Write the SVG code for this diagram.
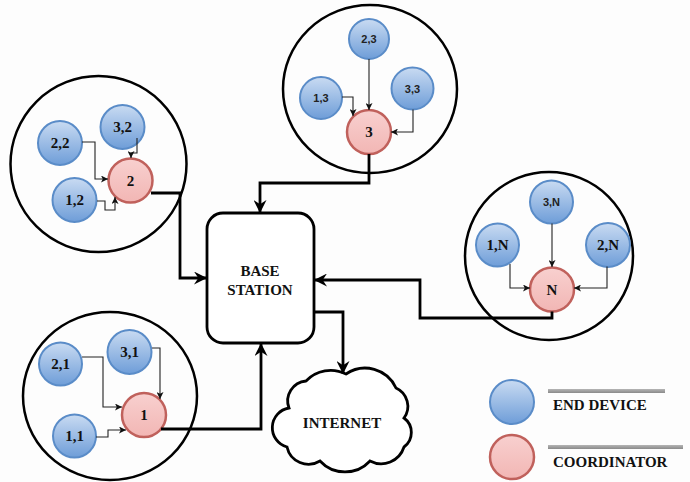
<svg xmlns="http://www.w3.org/2000/svg" width="690" height="482" viewBox="0 0 690 482">
<defs>
<linearGradient id="gBlue" x1="0" y1="0" x2="0" y2="1">
<stop offset="0" stop-color="#c9dbf2"/>
<stop offset="1" stop-color="#6e9dd8"/>
</linearGradient>
<linearGradient id="gRed" x1="0" y1="0" x2="0" y2="1">
<stop offset="0" stop-color="#f8d0cf"/>
<stop offset="1" stop-color="#f2b6b4"/>
</linearGradient>
<linearGradient id="gBar" x1="0" y1="0" x2="0" y2="1">
<stop offset="0" stop-color="#b5b5b5"/>
<stop offset="1" stop-color="#8a8a8a"/>
</linearGradient>
<marker id="big" viewBox="0 0 12 12" refX="12" refY="6" markerWidth="13" markerHeight="13" markerUnits="userSpaceOnUse" orient="auto">
<path d="M0,0 L12,6 L0,12 L4,6 Z" fill="#000"/>
</marker>
<marker id="sm" viewBox="0 0 8 8" refX="8" refY="4" markerWidth="7" markerHeight="7" markerUnits="userSpaceOnUse" orient="auto">
<path d="M0,0 L8,4 L0,8 L2,4 Z" fill="#111"/>
</marker>
</defs>
<style>
.cl{fill:none;stroke:#000;stroke-width:2.5}
.ed{fill:url(#gBlue);stroke:#5a8cc8;stroke-width:2}
.co{fill:url(#gRed);stroke:#c0615c;stroke-width:2.5}
.t{font-family:"Liberation Serif",serif;font-weight:bold;font-size:15px;fill:#111;text-anchor:middle}
.ts{font-family:"Liberation Sans",sans-serif;font-weight:bold;font-size:11px;fill:#222;text-anchor:middle}
.c{fill:none;stroke:#000;stroke-width:2.8;stroke-linejoin:miter}
.s{fill:none;stroke:#222;stroke-width:1.1}
</style>
<rect width="690" height="482" fill="#fdfdfd"/>

<g id="cluster2">
<circle class="cl" cx="98.5" cy="164" r="88"/>
<g id="n22"><circle class="ed" cx="60" cy="143" r="22"/><text class="t" x="60" y="148">2,2</text></g>
<g id="n32"><circle class="ed" cx="122.5" cy="127" r="22"/><text class="t" x="122.5" y="132">3,2</text></g>
<g id="n12"><circle class="ed" cx="74.5" cy="200" r="22"/><text class="t" x="74.5" y="205">1,2</text></g>
<g id="c2"><circle class="co" cx="130.5" cy="180.5" r="22"/><text class="t" x="130.5" y="185.5">2</text></g>
</g>

<g id="cluster3">
<ellipse class="cl" cx="370" cy="89" rx="87" ry="84"/>
<g id="n23"><circle class="ed" cx="369" cy="39" r="20"/><text class="ts" x="369" y="43">2,3</text></g>
<g id="n13"><circle class="ed" cx="321" cy="98" r="21"/><text class="ts" x="321" y="102">1,3</text></g>
<g id="n33"><circle class="ed" cx="412.5" cy="88.5" r="21"/><text class="ts" x="412.5" y="92.5">3,3</text></g>
<g id="c3"><circle class="co" cx="369" cy="132" r="22"/><text class="t" x="369" y="137">3</text></g>
</g>

<g id="clusterN">
<circle class="cl" cx="549" cy="256" r="84"/>
<g id="n3N"><circle class="ed" cx="551.5" cy="202" r="21.5"/><text class="ts" x="551.5" y="206">3,N</text></g>
<g id="n1N"><circle class="ed" cx="497.5" cy="245" r="21.5"/><text class="t" x="497.5" y="250">1,N</text></g>
<g id="n2N"><circle class="ed" cx="608" cy="245" r="22"/><text class="t" x="608" y="250">2,N</text></g>
<g id="cN"><circle class="co" cx="552" cy="289.5" r="22"/><text class="t" x="552" y="294.5">N</text></g>
</g>

<g id="cluster1">
<ellipse class="cl" cx="110" cy="396" rx="87" ry="84"/>
<g id="n21"><circle class="ed" cx="60.5" cy="364" r="21.5"/><text class="t" x="60.5" y="369">2,1</text></g>
<g id="n31"><circle class="ed" cx="129.5" cy="352" r="22"/><text class="t" x="129.5" y="357">3,1</text></g>
<g id="n11"><circle class="ed" cx="74.5" cy="436" r="21.5"/><text class="t" x="74.5" y="441">1,1</text></g>
<g id="c1"><circle class="co" cx="144" cy="415" r="22"/><text class="t" x="144" y="420">1</text></g>
</g>

<g id="basestation">
<rect x="207" y="213" width="107" height="130" rx="16" fill="#fff" stroke="#000" stroke-width="2.8"/>
<text class="t" x="260" y="276">BASE</text>
<text class="t" x="260" y="295">STATION</text>
</g>

<g id="internet">
<path d="M289,408 A20,20 0 0 1 306,381 A34,34 0 0 1 346,374 A34,34 0 0 1 396,388 A20,20 0 0 1 404,418 A18,18 0 0 1 404,447 A24,24 0 0 1 370,461 A34,34 0 0 1 320,461 A22,22 0 0 1 287,447 A20,20 0 0 1 289,408 Z" fill="#fff" stroke="#000" stroke-width="2.8"/>
<text class="t" x="342" y="428">INTERNET</text>
</g>

<g id="legend">
<g id="legEnd"><circle class="ed" cx="512" cy="402" r="22"/>
<rect x="548" y="389" width="117" height="4" fill="url(#gBar)"/>
<text class="t" x="553" y="410" style="text-anchor:start">END DEVICE</text></g>
<g id="legCoord"><circle class="co" cx="512" cy="457" r="22"/>
<rect x="548" y="445" width="135" height="4" fill="url(#gBar)"/>
<text class="t" x="553" y="467" style="text-anchor:start">COORDINATOR</text></g>
</g>

<g id="connectors">
<path class="s" d="M82,142 H95 V179 H108" marker-end="url(#sm)"/>
<path class="s" d="M137,138 V153 H131 V158" marker-end="url(#sm)"/>
<path class="s" d="M97,201 H105 V210 H115 V197" marker-end="url(#sm)"/>
<path class="s" d="M369,59 V110" marker-end="url(#sm)"/>
<path class="s" d="M342,97 H353 V116" marker-end="url(#sm)"/>
<path class="s" d="M413,109.5 V132 H391" marker-end="url(#sm)"/>
<path class="s" d="M552,223.5 V267" marker-end="url(#sm)"/>
<path class="s" d="M510,264 V288 H530" marker-end="url(#sm)"/>
<path class="s" d="M607,266.5 V288 H574" marker-end="url(#sm)"/>
<path class="s" d="M82,357 H103 V407 H122" marker-end="url(#sm)"/>
<path class="s" d="M152,348 H160 V399" marker-end="url(#sm)"/>
<path class="s" d="M96,437 H108 V430 H126" marker-end="url(#sm)"/>
<path class="c" d="M151,193 H180 V278 H207" marker-end="url(#big)"/>
<path class="c" d="M369,154 V183 H260 V213" marker-end="url(#big)"/>
<path class="c" d="M552,311.5 V318 H420 V280 H314" marker-end="url(#big)"/>
<path class="c" d="M161,429 H261 V343" marker-end="url(#big)"/>
<path class="c" d="M314,312 H343 V374" marker-end="url(#big)"/>
</g>
</svg>
